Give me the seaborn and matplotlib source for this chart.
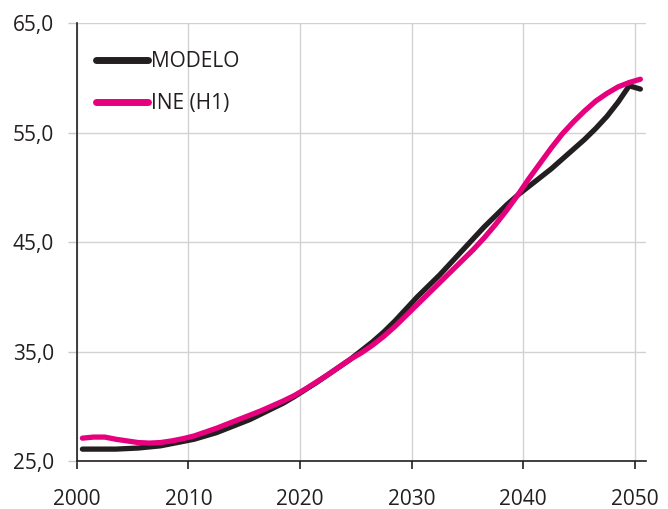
import numpy as np
import pandas as pd
import seaborn as sns
import matplotlib.pyplot as plt
from matplotlib.lines import Line2D

# mid-year points, 2000.5 ... 2050.5
years = np.arange(2000, 2051) + 0.5

modelo = [
    26.1, 26.1, 26.1, 26.1, 26.15, 26.2, 26.3, 26.4, 26.6, 26.8,
    27.0, 27.3, 27.6, 28.0, 28.4, 28.8, 29.3, 29.8, 30.3, 30.9,
    31.55, 32.2, 32.9, 33.6, 34.3, 35.1, 35.9, 36.8, 37.8, 38.9,
    40.0, 41.0, 42.0, 43.1, 44.2, 45.3, 46.4, 47.4, 48.4, 49.3,
    50.1, 50.9, 51.7, 52.6, 53.5, 54.4, 55.4, 56.5, 57.8, 59.3,
    59.0,
]
ine = [
    27.1, 27.2, 27.2, 27.0, 26.85, 26.7, 26.65, 26.7, 26.85, 27.05,
    27.3, 27.65, 28.0, 28.4, 28.8, 29.2, 29.6, 30.05, 30.5, 31.0,
    31.6, 32.25, 32.9, 33.6, 34.3, 34.9, 35.6, 36.4, 37.3, 38.3,
    39.3, 40.3, 41.3, 42.3, 43.3, 44.3, 45.4, 46.6, 47.9, 49.3,
    50.8, 52.2, 53.6, 54.9, 56.0, 57.0, 57.9, 58.6, 59.2, 59.6,
    59.9,
]

series = ["MODELO", "INE (H1)"]
colors = {"MODELO": "#231f20", "INE (H1)": "#e6007e"}
ink = "#231f20"

df = pd.DataFrame({"year": years, "MODELO": modelo, "INE (H1)": ine}).melt(
    id_vars="year", var_name="serie", value_name="valor"
)

sns.set_style("white")
plt.rcParams["font.family"] = ["Open Sans", "DejaVu Sans"]
plt.rcParams["text.color"] = ink

fig, ax = plt.subplots(figsize=(6.68, 5.09), dpi=100)
fig.subplots_adjust(left=0.115, right=0.967, bottom=0.094, top=0.954)

sns.lineplot(
    data=df, x="year", y="valor", hue="serie", hue_order=series,
    palette=colors, linewidth=3.8, solid_capstyle="round",
    solid_joinstyle="round", legend=False, ax=ax,
)

ax.set_xlim(2000, 2051)
ax.set_ylim(25, 65)
ax.set_xticks(range(2000, 2051, 10))
ax.set_yticks(range(25, 66, 10))
ax.set_yticklabels([f"{v},0" for v in range(25, 66, 10)])
ax.set_xlabel("")
ax.set_ylabel("")

ax.grid(True, color="#d2d2d2", linewidth=1.0)
ax.set_axisbelow(True)
for s in ["top", "right"]:
    ax.spines[s].set_visible(False)
for s in ["left", "bottom"]:
    ax.spines[s].set_color(ink)
    ax.spines[s].set_linewidth(1.2)

ax.tick_params(axis="x", bottom=True, direction="out", length=6, width=1.2,
               color=ink, pad=14, labelsize=15, labelcolor=ink)
ax.tick_params(axis="y", left=True, direction="out", length=6.5, width=1.0,
               color="#c8c8c8", pad=10, labelsize=15, labelcolor=ink)

handles = [Line2D([], [], color=colors[s], linewidth=5, solid_capstyle="round")
           for s in series]
ax.legend(handles, series, loc="upper left", bbox_to_anchor=(0.033, 0.936),
          frameon=False, fontsize=15, handlelength=2.5, handletextpad=0.15,
          labelspacing=1.0, borderpad=0, borderaxespad=0)

fig.savefig("out.png", dpi=100)
